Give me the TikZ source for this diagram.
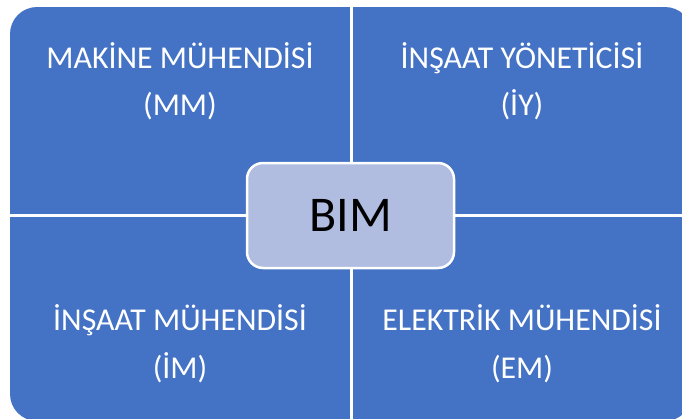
\documentclass[tikz,border=0pt]{standalone}
\usepackage{fontspec}
\setmainfont{Carlito}
\definecolor{quadblue}{HTML}{4472C4}
\definecolor{centerfill}{RGB}{176,189,224}
\begin{document}
\begin{tikzpicture}[x=1pt,y=-1pt,
  quadtext/.style={text=white,font=\fontsize{31.8}{38}\selectfont,anchor=base,inner sep=0pt},
  divider/.style={white,line width=3pt},
  centerbox/.style={draw=white,line width=2.5pt,fill=centerfill,rounded corners=16pt,
    minimum width=207pt,minimum height=105pt,inner sep=0pt,
    font=\fontsize{50}{60}\selectfont,text=black}]
\useasboundingbox (0,0) rectangle (682,418);
\clip (0,0) rectangle (682,418);
\fill[quadblue,rounded corners=27pt] (10,7) rectangle (692,421);
\coordinate (ltop) at (351,0);
\coordinate (lbot) at (351,425);
\coordinate (lleft) at (0,215);
\coordinate (lright) at (700,215);
\draw[divider] (ltop) -- (lbot);
\draw[divider] (lleft) -- (lright);
\node[quadtext] (mm1) at (180,68) {MAKİNE MÜHENDİSİ};
\node[quadtext] (mm2) at (180,115) {(MM)};
\node[quadtext] (iy1) at (522,68) {İNŞAAT YÖNETİCİSİ};
\node[quadtext] (iy2) at (522,115) {(İY)};
\node[quadtext] (im1) at (180,330) {İNŞAAT MÜHENDİSİ};
\node[quadtext] (im2) at (180,378) {(İM)};
\node[quadtext] (em1) at (522,330) {ELEKTRİK MÜHENDİSİ};
\node[quadtext] (em2) at (522,378) {(EM)};
\node[centerbox] (bim) at (350.5,215.5) {BIM};
\end{tikzpicture}
\end{document}
